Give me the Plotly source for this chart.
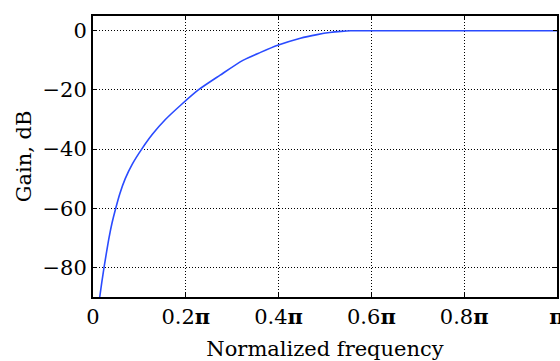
import plotly.graph_objects as go

# Normalized frequency (units of pi) and gain (dB)
freq = [0.0145, 0.019, 0.0238, 0.029, 0.0345, 0.041, 0.049, 0.058, 0.0695, 0.085,
        0.105, 0.128, 0.156, 0.190, 0.227, 0.274, 0.323, 0.361, 0.398, 0.447,
        0.483, 0.510, 0.535, 0.555, 0.700, 0.850, 1.000]
gain = [-90.0, -85.0, -80.0, -75.0, -70.0, -65.0, -60.0, -55.0, -50.0, -45.0,
        -40.0, -35.0, -30.0, -25.0, -20.0, -15.0, -10.0, -7.3, -4.9, -2.5,
        -1.3, -0.6, -0.2, 0.0, 0.0, 0.0, 0.0]

x_tickvals = [0, 0.2, 0.4, 0.6, 0.8, 1.0]
x_ticktext = ["0", "0.2<b>π</b>", "0.4<b>π</b>", "0.6<b>π</b>", "0.8<b>π</b>", "<b>π</b>"]
y_tickvals = [0, -20, -40, -60, -80]
y_ticktext = ["0", "−20", "−40", "−60", "−80"]

font = dict(family="DejaVu Serif", size=21, color="black")

fig = go.Figure()
fig.add_trace(go.Scatter(x=freq, y=gain, mode="lines", line_shape="spline",
                         line=dict(color="#2a4bff", width=1.6, smoothing=0.7),
                         showlegend=False))

fig.update_layout(
    width=560, height=361,
    margin=dict(l=93, r=3, t=16, b=64, autoexpand=False),
    paper_bgcolor="white", plot_bgcolor="white",
    font=font,
)
fig.update_xaxes(
    range=[0, 1], tickvals=x_tickvals, ticktext=x_ticktext,
    showline=True, linecolor="black", linewidth=2, mirror="ticks",
    ticks="inside", ticklen=4, tickcolor="black",
    showgrid=True, gridcolor="black", griddash="1px,2px", gridwidth=1,
    zeroline=False, tickfont=font, automargin=False, ticklabeloverflow="allow",
    title=dict(text="Normalized frequency", font=font, standoff=14),
)
fig.update_yaxes(
    range=[-90, 5], tickvals=y_tickvals, ticktext=y_ticktext,
    showline=True, linecolor="black", linewidth=2, mirror="ticks",
    ticks="inside", ticklen=4, tickcolor="black",
    showgrid=True, gridcolor="black", griddash="1px,2px", gridwidth=1,
    zeroline=False, tickfont=font, automargin=False, ticklabeloverflow="allow",
    title=dict(text="Gain, dB", font=font, standoff=5),
)

fig.write_html(
    "out.html",
    config={"displayModeBar": False},
    post_script="document.body.style.margin='0';document.body.style.overflow='hidden';",
)
